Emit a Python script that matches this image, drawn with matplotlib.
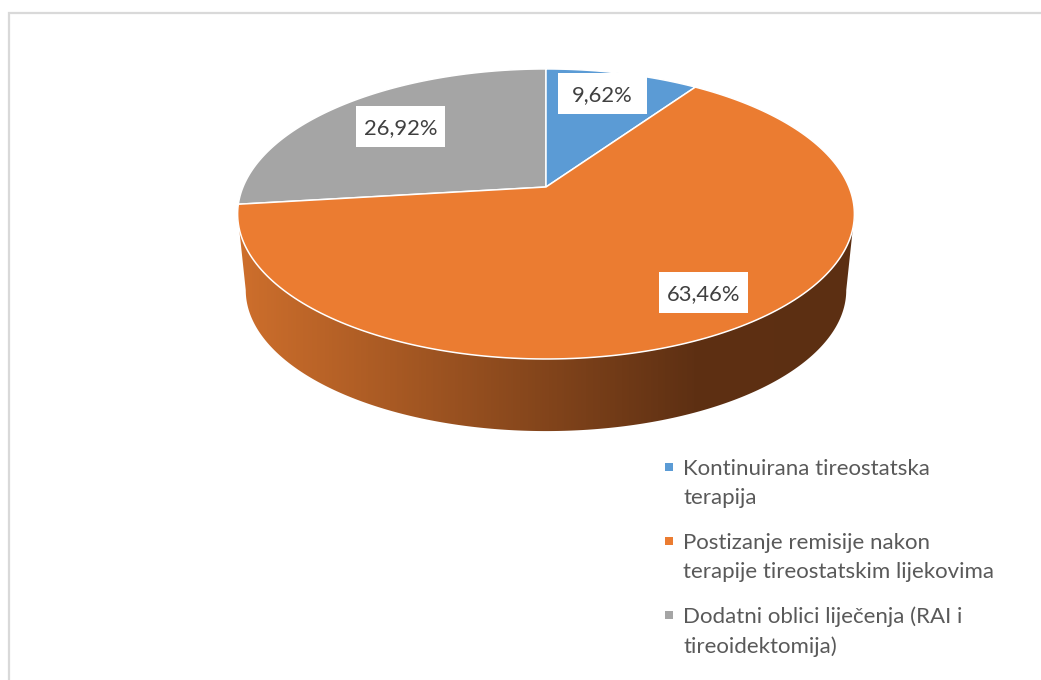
import numpy as np
import matplotlib
matplotlib.use('Agg')
import matplotlib.pyplot as plt
from matplotlib.colors import LinearSegmentedColormap
from matplotlib.patches import Polygon, Rectangle

# Data
categorias = [['Kontinuirana tireostatska', 'terapija'],
              ['Postizanje remisije nakon', 'terapije tireostatskim lijekovima'],
              ['Dodatni oblici liječenja (RAI i', 'tireoidektomija)']]
valores = [9.62, 63.46, 26.92]
rotulos = ['9,62%', '63,46%', '26,92%']
cores = ['#5B9BD5', '#EB7C31', '#A5A5A5']

plt.rcParams['font.family'] = ['Lato', 'DejaVu Sans']

# Pixel-like coordinates, y pointing down
fig = plt.figure(figsize=(10.41, 6.80), dpi=100)
ax = fig.add_axes([0, 0, 1, 1])
ax.set_xlim(0, 1041)
ax.set_ylim(680, 0)
ax.axis('off')

ax.add_patch(Rectangle((8.5, 12.5), 1100, 800, fc='white', ec='#D9D9D9', lw=1.6, zorder=0))

# Perspective of the tilted disc
cx = 546
k = 0.186


def disco(t, a, b, y0):
    u, v = np.sin(t), np.cos(t)
    return cx + a * u / (1 + k * v), y0 - b * v / (1 + k * v)


# Side wall with the gradient
t_w = np.arccos(-k)
t1 = np.linspace(t_w, 2 * np.pi - t_w, 300)
x_b, y_b = disco(t1, 295, 136, 264)
x_t, y_t = disco(t1[::-1], 303, 140, 187)
lado = Polygon(np.column_stack([np.r_[x_b, x_t], np.r_[y_b, y_t]]), fc='none', ec='none')
ax.add_patch(lado)
grad = LinearSegmentedColormap.from_list('lado', [(0, '#CE6F2C'), (0.74, '#5E3013'), (1, '#5C2F12')])
im = ax.imshow(np.linspace(0, 1, 620)[None, :], extent=(237, 857, 440, 200), cmap=grad, aspect='auto', zorder=2)
im.set_clip_path(lado)
ax.set_xlim(0, 1041)
ax.set_ylim(680, 0)

# Slices, clockwise from the top
limites = np.r_[0, np.cumsum(valores)] / np.sum(valores) * 2 * np.pi
for i in [2, 0, 1]:
    t = np.linspace(limites[i], limites[i + 1], 200)
    x, y = disco(t, 303, 140, 187)
    ax.fill(np.r_[cx, x], np.r_[187, y], fc=cores[i], ec='white', lw=1.1, joinstyle='round', zorder=3)

# Data labels
caixas = [(558, 73), (659, 272), (356, 106)]
for (xc, yc), rot in zip(caixas, rotulos):
    ax.add_patch(Rectangle((xc, yc), 89, 41, fc='white', ec='none', zorder=4))
    ax.text(xc + 44.5, yc + 20.5, rot, fontsize=15.8, color='#404040', ha='center', va='center_baseline', zorder=5)

# Legend
y_leg = [467, 541, 615]
for y0, linhas, cor in zip(y_leg, categorias, cores):
    ax.plot([668.5], [y0], marker='s', ms=5.2, color=cor, mew=0)
    for j, linha in enumerate(linhas):
        ax.text(683, y0 + j * 29.5, linha, fontsize=16, color='#595959', ha='left', va='center_baseline')

fig.savefig('out.png', dpi=100)
